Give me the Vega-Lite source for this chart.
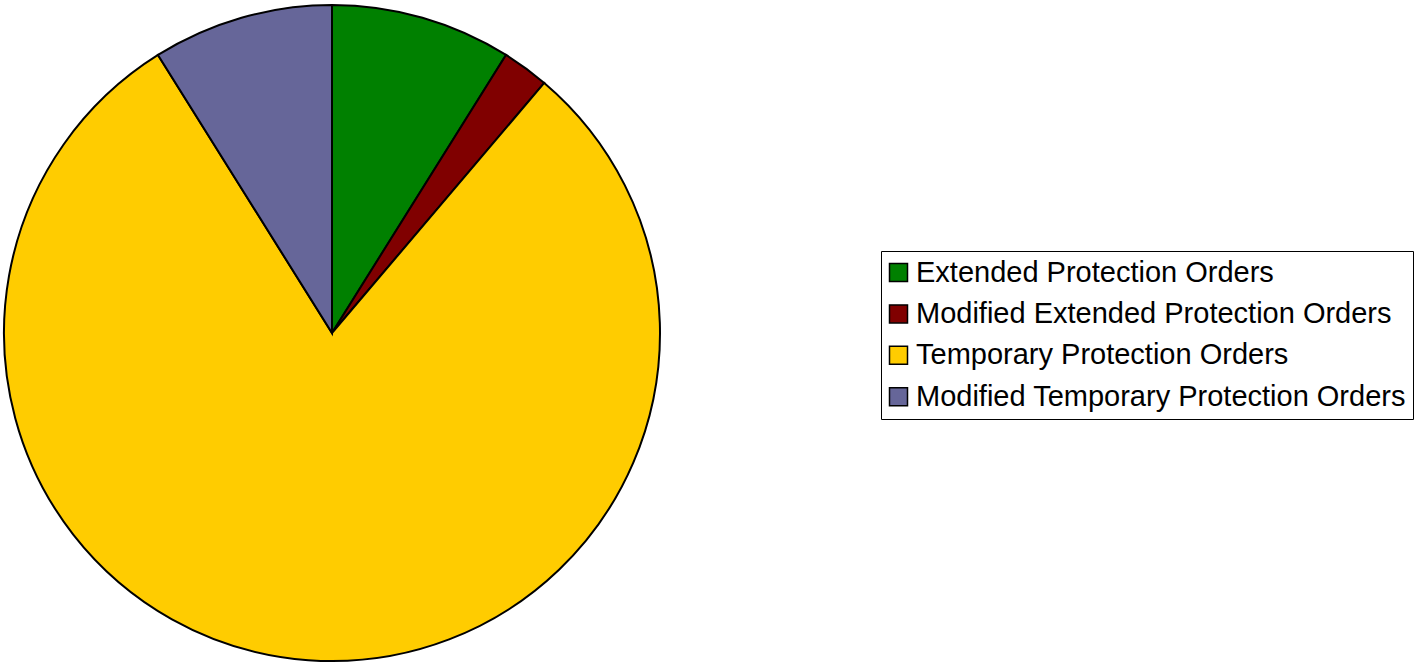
{
  "$schema": "https://vega.github.io/schema/vega-lite/v6.json",
  "width": 664,
  "height": 662,
  "autosize": {"type": "none"},
  "padding": {"left": 0, "top": 2, "right": 752, "bottom": 0},
  "background": "white",
  "config": {"view": {"stroke": null}},
  "data": {
    "values": [
      {"category": "Extended Protection Orders", "value": 8.9, "idx": 1},
      {"category": "Modified Extended Protection Orders", "value": 2.3, "idx": 2},
      {"category": "Temporary Protection Orders", "value": 79.9, "idx": 3},
      {"category": "Modified Temporary Protection Orders", "value": 8.9, "idx": 4}
    ]
  },
  "mark": {"type": "arc", "radius": 328, "stroke": "black", "strokeWidth": 2},
  "encoding": {
    "theta": {"field": "value", "type": "quantitative", "stack": true},
    "order": {"field": "idx", "type": "quantitative"},
    "color": {
      "field": "category",
      "type": "nominal",
      "scale": {
        "domain": ["Extended Protection Orders", "Modified Extended Protection Orders", "Temporary Protection Orders", "Modified Temporary Protection Orders"],
        "range": ["#008000", "#800000", "#FFCC00", "#666699"]
      },
      "legend": {
        "title": null,
        "orient": "none",
        "legendX": 881,
        "legendY": 249,
        "strokeColor": "black",
        "padding": 7,
        "symbolType": "square",
        "symbolSize": 324,
        "symbolOffset": -4,
        "symbolStrokeColor": "black",
        "symbolStrokeWidth": 1.5,
        "symbolOpacity": 1,
        "labelFont": "Liberation Sans",
        "labelFontSize": 29,
        "labelColor": "black",
        "labelOffset": 3,
        "labelLimit": 700,
        "rowPadding": 11.4
      }
    }
  }
}
